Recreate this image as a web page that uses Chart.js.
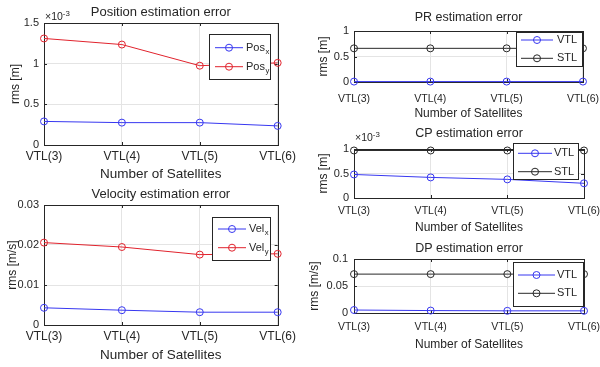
<!DOCTYPE html>
<html>
<head>
<meta charset="utf-8">
<script src="https://cdn.jsdelivr.net/npm/chart.js@4"></script>
<style>
html, body { margin: 0; padding: 0; background: #fff; width: 600px; height: 367px; overflow: hidden; }
canvas { position: absolute; }
</style>
</head>
<body>
<canvas id="pos"></canvas>
<canvas id="vel"></canvas>
<canvas id="pr"></canvas>
<canvas id="cp"></canvas>
<canvas id="dp"></canvas>
<script>
// categories
var sats = ['VTL(3)', 'VTL(4)', 'VTL(5)', 'VTL(6)'];

// series values
var posX = [0.29e-3, 0.275e-3, 0.275e-3, 0.235e-3];
var posY = [1.31e-3, 1.235e-3, 0.975e-3, 1.01e-3];
var velX = [0.0043, 0.0037, 0.0032, 0.0032];
var velY = [0.0206, 0.0195, 0.0176, 0.0178];
var prVTL = [0.008, 0.008, 0.008, 0.008];
var prSTL = [0.66, 0.66, 0.66, 0.66];
var cpVTL = [0.48e-3, 0.42e-3, 0.38e-3, 0.30e-3];
var cpSTL = [0.97e-3, 0.97e-3, 0.97e-3, 0.97e-3];
var dpVTL = [0.0055, 0.0045, 0.004, 0.004];
var dpSTL = [0.072, 0.072, 0.072, 0.072];

// tick values and labels
var posTicks = [0, 0.5e-3, 1e-3, 1.5e-3];
var posTickLabels = ['0', '0.5', '1', '1.5'];
var velTicks = [0, 0.01, 0.02, 0.03];
var velTickLabels = ['0', '0.01', '0.02', '0.03'];
var prTicks = [0, 0.5, 1];
var prTickLabels = ['0', '0.5', '1'];
var cpTicks = [0, 0.5e-3, 1e-3];
var cpTickLabels = ['0', '0.5', '1'];
var dpTicks = [0, 0.05, 0.1];
var dpTickLabels = ['0', '0.05', '0.1'];

var BLUE = 'rgb(55,55,240)';
var RED = 'rgb(225,35,45)';
var BLACK = 'rgb(40,40,40)';
var TXT = '#262626';
var GRID = '#e4e4e4';
var NARROW = '"Liberation Sans Narrow", "Liberation Sans", Arial, sans-serif';
var REG = '"Liberation Sans", Arial, sans-serif';

function fontStr(f) { return f.size + 'px ' + f.family; }

function axesPlugin(c) {
  return {
    id: 'matlabAxes',
    beforeDatasetsDraw: function (chart) {
      var ctx = chart.ctx, a = chart.chartArea;
      ctx.save();
      ctx.strokeStyle = TXT;
      ctx.lineWidth = 1;
      ctx.strokeRect(Math.round(a.left) + 0.5, Math.round(a.top) + 0.5,
        Math.round(a.right - a.left), Math.round(a.bottom - a.top));
      // inward tick marks
      ctx.beginPath();
      chart.scales.x.ticks.forEach(function (t, i) {
        var x = Math.round(chart.scales.x.getPixelForTick(i)) + 0.5;
        ctx.moveTo(x, a.bottom); ctx.lineTo(x, a.bottom - 3);
        ctx.moveTo(x, a.top); ctx.lineTo(x, a.top + 3);
      });
      chart.scales.y.ticks.forEach(function (t) {
        var y = Math.round(chart.scales.y.getPixelForValue(t.value)) + 0.5;
        ctx.moveTo(a.left, y); ctx.lineTo(a.left + 3, y);
        ctx.moveTo(a.right, y); ctx.lineTo(a.right - 3, y);
      });
      ctx.stroke();
      ctx.restore();
    },
    afterDatasetsDraw: function (chart) {
      var ctx = chart.ctx, L = c.legend, bx = c.box[0], by = c.box[1];
      ctx.save();
      ctx.fillStyle = '#fff';
      ctx.fillRect(L.x1 - bx, L.y1 - by, L.x2 - L.x1, L.y2 - L.y1);
      ctx.strokeStyle = TXT;
      ctx.lineWidth = 1;
      ctx.strokeRect(Math.round(L.x1 - bx) + 0.5, Math.round(L.y1 - by) + 0.5,
        Math.round(L.x2 - L.x1), Math.round(L.y2 - L.y1));
      chart.data.datasets.forEach(function (ds, i) {
        var y = L.rows[i] - by;
        ctx.strokeStyle = ds.borderColor;
        ctx.beginPath();
        ctx.moveTo(L.lx1 - bx, y); ctx.lineTo(L.lx2 - bx, y);
        ctx.stroke();
        ctx.beginPath();
        ctx.arc((L.lx1 + L.lx2) / 2 - bx, y, 3.5, 0, Math.PI * 2);
        ctx.stroke();
        ctx.fillStyle = TXT;
        ctx.font = fontStr(c.legendFont);
        ctx.textAlign = 'left';
        ctx.textBaseline = 'middle';
        ctx.fillText(ds.label, L.tx - bx, y);
        if (ds.sub) {
          var w = ctx.measureText(ds.label).width;
          ctx.font = (c.legendFont.size * 0.7) + 'px ' + c.legendFont.family;
          ctx.fillText(ds.sub, L.tx - bx + w + 0.5, y + 4);
        }
      });
      ctx.restore();
    },
    afterDraw: function (chart) {
      var ctx = chart.ctx, a = chart.chartArea, bx = c.box[0], by = c.box[1];
      ctx.save();
      ctx.fillStyle = TXT;
      ctx.textBaseline = 'middle';
      ctx.textAlign = 'center';
      ctx.font = fontStr(c.titleFont);
      ctx.fillText(c.title, (a.left + a.right) / 2, c.titleY - by);
      ctx.font = fontStr(c.labelFont);
      ctx.fillText('Number of Satellites', (a.left + a.right) / 2, c.xTitleY - by);
      ctx.save();
      ctx.translate(c.yTitleX - bx, (a.top + a.bottom) / 2);
      ctx.rotate(-Math.PI / 2);
      ctx.font = fontStr(c.yLabelFont);
      ctx.fillText(c.yTitle, 0, 0);
      ctx.restore();
      if (c.exp) {
        ctx.textAlign = 'left';
        ctx.font = fontStr(c.expFont);
        ctx.fillText('\u00d710', c.exp[0] - bx, c.exp[1] - by);
        var w = ctx.measureText('\u00d710').width;
        ctx.font = (c.expFont.size * 0.75) + 'px ' + c.expFont.family;
        ctx.fillText('-3', c.exp[0] - bx + w, c.exp[1] - by - 3.5);
      }
      ctx.restore();
    }
  };
}

function build(id, c, datasets) {
  var el = document.getElementById(id);
  el.width = c.box[2];
  el.height = c.box[3];
  el.style.left = c.box[0] + 'px';
  el.style.top = c.box[1] + 'px';
  el.style.width = c.box[2] + 'px';
  el.style.height = c.box[3] + 'px';
  datasets.forEach(function (ds) {
    ds.borderWidth = 1;
    ds.pointRadius = 3.5;
    ds.pointBorderWidth = 1;
    ds.pointBorderColor = ds.borderColor;
    ds.pointBackgroundColor = 'rgba(0,0,0,0)';
    ds.tension = 0;
    ds.clip = false;
  });
  return new Chart(el, {
    type: 'line',
    data: { labels: sats, datasets: datasets },
    options: {
      responsive: false,
      animation: false,
      devicePixelRatio: 1,
      events: [],
      layout: { padding: { left: 0, bottom: 0, top: c.plot[1] - c.box[1], right: c.box[0] + c.box[2] - c.plot[2] } },
      plugins: { legend: { display: false }, tooltip: { enabled: false }, title: { display: false } },
      scales: {
        x: {
          type: 'category',
          offset: false,
          grid: { color: GRID, drawTicks: false },
          border: { display: false },
          ticks: { font: c.xTickFont, color: TXT, padding: c.xPad, maxRotation: 0, autoSkip: false },
          afterFit: function (s) { s.height = c.box[1] + c.box[3] - c.plot[3]; }
        },
        y: {
          min: c.ticks[0],
          max: c.ticks[c.ticks.length - 1],
          grid: { color: GRID, drawTicks: false },
          border: { display: false },
          afterBuildTicks: function (s) { s.ticks = c.ticks.map(function (v) { return { value: v }; }); },
          ticks: {
            font: c.yTickFont, color: TXT, padding: c.yPad,
            callback: function (v, i) { return c.tickLabels[i]; }
          },
          afterFit: function (s) { s.width = c.plot[0] - c.box[0]; }
        }
      }
    },
    plugins: [axesPlugin(c)]
  });
}

var leftXTick = { size: 12, family: NARROW };
var leftYTick = { size: 11, family: NARROW };
var leftTitle = { size: 13, family: NARROW };
var leftLabel = { size: 13.5, family: NARROW };
var leftYLabel = { size: 12, family: REG };
var leftLegend = { size: 11, family: NARROW };
var rightXTick = { size: 10.5, family: NARROW };
var rightYTick = { size: 11, family: NARROW };
var rightTitle = { size: 12.5, family: REG };
var rightLabel = { size: 12, family: REG };
var rightYLabel = { size: 12, family: REG };
var rightLegend = { size: 11, family: NARROW };
var expFont = { size: 10.5, family: NARROW };

build('pos', {
  box: [0, 0, 300, 183], plot: [44, 23, 279, 145],
  ticks: posTicks, tickLabels: posTickLabels,
  title: 'Position estimation error', titleY: 12, xTitleY: 174, yTitle: 'rms [m]', yTitleX: 16,
  exp: [45, 17], expFont: expFont,
  xTickFont: leftXTick, yTickFont: leftYTick, titleFont: leftTitle, labelFont: leftLabel,
  yLabelFont: leftYLabel, legendFont: leftLegend,
  xPad: 4, yPad: 5,
  legend: { x1: 209, y1: 34, x2: 270, y2: 79, rows: [47.7, 66.7], lx1: 215, lx2: 243, tx: 246 }
}, [
  { label: 'Pos', sub: 'x', data: posX, borderColor: BLUE },
  { label: 'Pos', sub: 'y', data: posY, borderColor: RED }
]);

build('vel', {
  box: [0, 183, 300, 184], plot: [44, 205, 279, 325],
  ticks: velTicks, tickLabels: velTickLabels,
  title: 'Velocity estimation error', titleY: 194, xTitleY: 355, yTitle: 'rms [m/s]', yTitleX: 13,
  xTickFont: leftXTick, yTickFont: leftYTick, titleFont: leftTitle, labelFont: leftLabel,
  yLabelFont: leftYLabel, legendFont: leftLegend,
  xPad: 4, yPad: 5,
  legend: { x1: 212, y1: 217, x2: 270, y2: 260, rows: [229, 247.7], lx1: 218, lx2: 246, tx: 249 }
}, [
  { label: 'Vel', sub: 'x', data: velX, borderColor: BLUE },
  { label: 'Vel', sub: 'y', data: velY, borderColor: RED }
]);

build('pr', {
  box: [300, 0, 310, 122], plot: [354, 31, 584, 82],
  ticks: prTicks, tickLabels: prTickLabels,
  title: 'PR estimation error', titleY: 18, xTitleY: 114, yTitle: 'rms [m]', yTitleX: 324,
  xTickFont: rightXTick, yTickFont: rightYTick, titleFont: rightTitle, labelFont: rightLabel,
  yLabelFont: rightYLabel, legendFont: rightLegend,
  xPad: 11, yPad: 5,
  legend: { x1: 516, y1: 32, x2: 582, y2: 66, rows: [40, 58.3], lx1: 521, lx2: 553, tx: 557 }
}, [
  { label: 'VTL', data: prVTL, borderColor: BLUE },
  { label: 'STL', data: prSTL, borderColor: BLACK }
]);

build('cp', {
  box: [300, 122, 310, 118], plot: [354, 149, 584, 198],
  ticks: cpTicks, tickLabels: cpTickLabels,
  title: 'CP estimation error', titleY: 134, xTitleY: 228, yTitle: 'rms [m]', yTitleX: 324,
  exp: [355, 138], expFont: expFont,
  xTickFont: rightXTick, yTickFont: rightYTick, titleFont: rightTitle, labelFont: rightLabel,
  yLabelFont: rightYLabel, legendFont: rightLegend,
  xPad: 7, yPad: 5,
  legend: { x1: 513, y1: 143, x2: 578, y2: 179, rows: [153.3, 171.7], lx1: 518, lx2: 552, tx: 554 }
}, [
  { label: 'VTL', data: cpVTL, borderColor: BLUE },
  { label: 'STL', data: cpSTL, borderColor: BLACK }
]);

build('dp', {
  box: [300, 240, 310, 127], plot: [354, 259, 584, 313],
  ticks: dpTicks, tickLabels: dpTickLabels,
  title: 'DP estimation error', titleY: 249, xTitleY: 345, yTitle: 'rms [m/s]', yTitleX: 315,
  xTickFont: rightXTick, yTickFont: rightYTick, titleFont: rightTitle, labelFont: rightLabel,
  yLabelFont: rightYLabel, legendFont: rightLegend,
  xPad: 8, yPad: 6,
  legend: { x1: 513, y1: 262, x2: 583, y2: 306, rows: [275, 293.3], lx1: 518, lx2: 555, tx: 557 }
}, [
  { label: 'VTL', data: dpVTL, borderColor: BLUE },
  { label: 'STL', data: dpSTL, borderColor: BLACK }
]);
</script>
</body>
</html>
